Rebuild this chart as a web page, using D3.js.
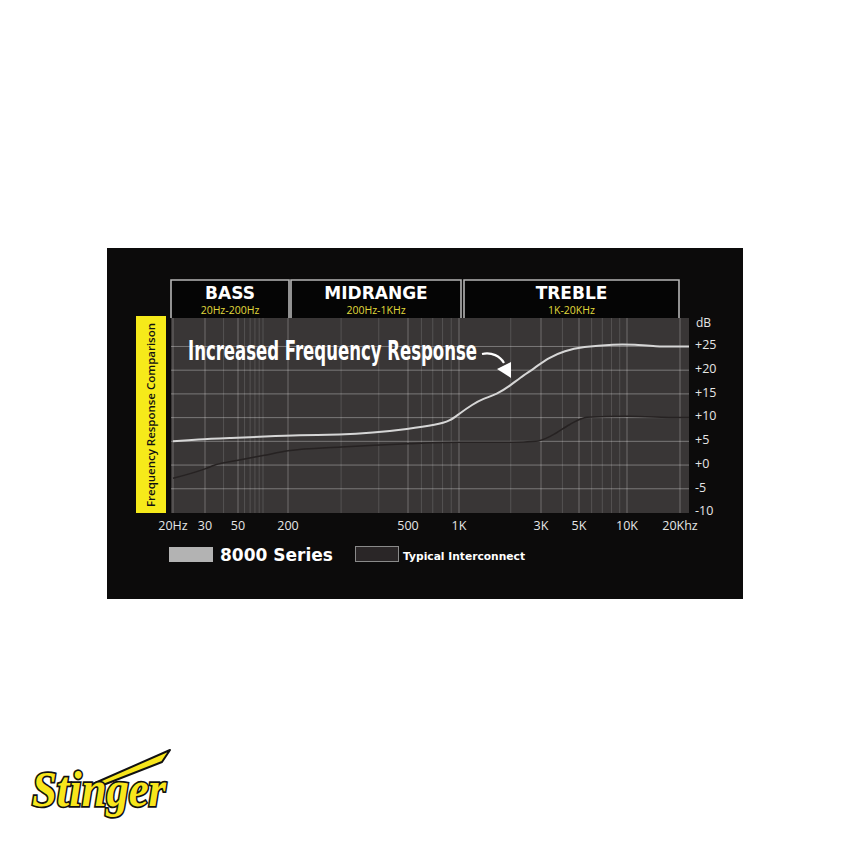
<!DOCTYPE html>
<html><head><meta charset="utf-8">
<script src="https://cdn.jsdelivr.net/npm/d3@7"></script>
<style>html,body{margin:0;padding:0;background:#fff;}svg{display:block;}</style>
</head><body>
<svg id="chart" width="850" height="850"></svg>
<script>
// ---- data ----
const bands = ["BASS", "MIDRANGE", "TREBLE"];
const bandRanges = ["20Hz-200Hz", "200Hz-1KHz", "1K-20KHz"];
const tickFreqs = [20, 30, 50, 200, 500, 1000, 3000, 5000, 10000, 20000];
const tickLabels = ["20Hz", "30", "50", "200", "500", "1K", "3K", "5K", "10K", "20Khz"];
const dbTicks = [25, 20, 15, 10, 5, 0, -5, -10];
const dbLabels = ["+25", "+20", "+15", "+10", "+5", "+0", "-5", "-10"];
const seriesNames = ["8000 Series", "Typical Interconnect"];
const freq8000 = [20, 27, 45, 105, 216, 300, 380, 500, 740, 885, 1000, 1200, 1380, 1660, 1980, 2260, 2770, 3300, 4140, 5220, 8400, 11100, 14400, 20000, 22500];
const db8000 = [5.0, 5.4, 5.7, 6.0, 6.3, 6.4, 6.8, 7.6, 8.5, 9.3, 10.8, 12.8, 14.0, 14.9, 16.7, 18.4, 20.5, 22.6, 24.1, 24.9, 25.5, 25.4, 25.0, 25.0, 25.0];
const freqTypical = [20, 30, 35, 50, 100, 200, 300, 500, 1000, 2000, 2800, 3500, 4400, 5600, 10000, 20000, 22500];
const dbTypical = [-2.8, -0.8, 0, 1.0, 2.0, 3.0, 3.8, 4.5, 4.8, 4.8, 5.0, 6.3, 8.5, 10.1, 10.3, 10.0, 10.0];
const gridFreqs = [20,30,40,50,60,70,80,90,100,200,300,400,500,600,700,800,900,1000,2000,3000,4000,5000,6000,7000,8000,9000,10000,20000];

// ---- layout ----
const svg = d3.select("#chart");
const plot = {left: 171, right: 689, top: 318, bottom: 513};

// piecewise log scale matching the printed axis
const x = d3.scaleLog()
  .domain(tickFreqs)
  .range([173, 205, 238, 288, 408, 459, 541, 579, 627, 680]);
const y = d3.scaleLinear().domain([-10, 31]).range([512.5, 318]);

// frame
svg.append("rect").attr("x", 107).attr("y", 248).attr("width", 636).attr("height", 351).attr("fill", "#0c0b0b");

// band header boxes
const bandEdges = [[171, 289], [291, 461], [464, 679]];
bands.forEach((b, i) => {
  const [l, r] = bandEdges[i];
  svg.append("path")
    .attr("d", `M${l},${plot.top} V280 H${r} V${plot.top}`)
    .attr("fill", "#050505").attr("stroke", "#b5b5b5").attr("stroke-width", 1.6);
  svg.append("text").attr("x", (l + r) / 2).attr("y", 299)
    .attr("text-anchor", "middle").attr("fill", "#ffffff")
    .attr("font-family", "DejaVu Sans").attr("font-weight", "bold").attr("font-size", 17)
    .text(b);
  svg.append("text").attr("x", (l + r) / 2).attr("y", 314)
    .attr("text-anchor", "middle").attr("fill", "#e0da3c")
    .attr("font-family", "Open Sans").attr("font-size", 10.5)
    .text(bandRanges[i]);
});

// plot background
svg.append("rect").attr("x", plot.left).attr("y", plot.top)
  .attr("width", plot.right - plot.left).attr("height", plot.bottom - plot.top)
  .attr("fill", "#393636");

// vertical grid
const gx = svg.append("g");
gridFreqs.forEach(f => {
  const major = tickFreqs.includes(f);
  gx.append("line").attr("x1", x(f)).attr("x2", x(f))
    .attr("y1", plot.top).attr("y2", plot.bottom)
    .attr("stroke", "#ffffff")
    .attr("stroke-opacity", major ? 0.28 : 0.14)
    .attr("stroke-width", 1);
});
// horizontal grid
dbTicks.slice(0, 7).forEach(v => {
  svg.append("line").attr("x1", plot.left).attr("x2", plot.right)
    .attr("y1", y(v)).attr("y2", y(v))
    .attr("stroke", "#ffffff").attr("stroke-opacity", 0.33).attr("stroke-width", 1);
});

// lines
svg.append("clipPath").attr("id", "pc").append("rect")
  .attr("x", plot.left).attr("y", plot.top).attr("width", plot.right - plot.left).attr("height", plot.bottom - plot.top);
svg.append("path")
  .attr("clip-path", "url(#pc)")
  .attr("d", d3.line().curve(d3.curveMonotoneX)(freqTypical.map((f, i) => [x(f), y(dbTypical[i])])))
  .attr("fill", "none").attr("stroke", "#262222").attr("stroke-width", 1.5);
svg.append("path")
  .attr("clip-path", "url(#pc)")
  .attr("d", d3.line().curve(d3.curveBasis)(freq8000.map((f, i) => [x(f), y(db8000[i])])))
  .attr("fill", "none").attr("stroke", "#d6d6d6").attr("stroke-width", 2);

// yellow side band
svg.append("rect").attr("x", 136).attr("y", 316).attr("width", 30).attr("height", 197).attr("fill", "#f6ea1a");
svg.append("text")
  .attr("transform", "translate(155,415) rotate(-90)")
  .attr("text-anchor", "middle").attr("fill", "#111")
  .attr("font-family", "Open Sans").attr("font-weight", 600).attr("font-size", 11)
  .attr("textLength", 184).attr("lengthAdjust", "spacingAndGlyphs")
  .text("Frequency Response Comparison");

// y labels
svg.append("text").attr("x", 696).attr("y", y(30)).attr("dy", "0.35em")
  .attr("fill", "#e6e6e6").attr("font-family", "Open Sans").attr("font-size", 12).text("dB");
dbTicks.forEach((v, i) => {
  svg.append("text").attr("x", 695).attr("y", y(v) - 1.5).attr("dy", "0.35em")
    .attr("fill", "#e6e6e6").attr("font-family", "Open Sans").attr("font-size", 12.5)
    .text(dbLabels[i]);
});

// x labels
tickFreqs.forEach((f, i) => {
  svg.append("text").attr("x", x(f)).attr("y", 526).attr("dy", "0.35em")
    .attr("text-anchor", "middle")
    .attr("fill", "#e6e6e6").attr("font-family", "Open Sans").attr("font-size", 12.5)
    .text(tickLabels[i]);
});

// annotation
svg.append("text").attr("x", 188).attr("y", 360)
  .attr("fill", "#ffffff").attr("font-family", "Liberation Sans Narrow, DejaVu Sans Condensed")
  .attr("font-weight", "bold").attr("font-size", 27)
  .attr("textLength", 289).attr("lengthAdjust", "spacingAndGlyphs")
  .text("Increased Frequency Response");
svg.append("path").attr("d", "M482,354 C492,352 500,356 504,363")
  .attr("fill", "none").attr("stroke", "#fff").attr("stroke-width", 2.2);
svg.append("path").attr("d", "M497,369 L511,362 L511,378 Z").attr("fill", "#fff");

// legend
svg.append("rect").attr("x", 169).attr("y", 547).attr("width", 44).attr("height", 15).attr("fill", "#b3b3b3");
svg.append("text").attr("x", 220).attr("y", 561).attr("fill", "#fff")
  .attr("font-family", "DejaVu Sans").attr("font-weight", "bold").attr("font-size", 17)
  .attr("textLength", 113).attr("lengthAdjust", "spacingAndGlyphs")
  .text(seriesNames[0]);
svg.append("rect").attr("x", 355.5).attr("y", 546.5).attr("width", 43).attr("height", 15)
  .attr("fill", "#2a2627").attr("stroke", "#8a8a8a").attr("stroke-width", 1);
svg.append("text").attr("x", 403).attr("y", 560).attr("fill", "#fff")
  .attr("font-family", "DejaVu Sans").attr("font-weight", "bold").attr("font-size", 10)
  .attr("textLength", 122).attr("lengthAdjust", "spacingAndGlyphs")
  .text(seriesNames[1]);

// logo
svg.append("path").attr("d", "M88,786 L170,750 L162,762 L98,787 Z")
  .attr("fill", "#f8e61c").attr("stroke", "#111").attr("stroke-width", 2).attr("stroke-linejoin", "round");
svg.append("text").attr("x", 32).attr("y", 806)
  .attr("fill", "#f8e61c").attr("stroke", "#111").attr("stroke-width", 3.5)
  .attr("paint-order", "stroke")
  .attr("font-family", "Liberation Serif").attr("font-style", "italic").attr("font-weight", "bold")
  .attr("font-size", 50).attr("textLength", 134).attr("lengthAdjust", "spacingAndGlyphs")
  .text("Stinger");
</script>
</body></html>
